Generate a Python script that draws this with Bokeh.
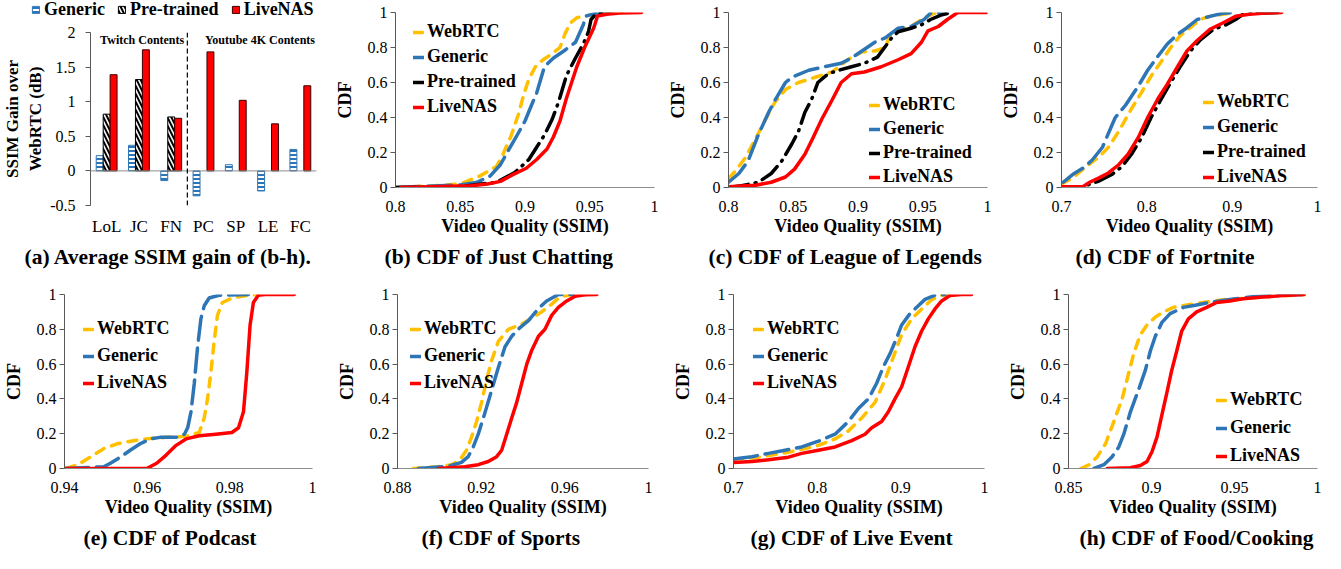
from bokeh.plotting import figure
from bokeh.models import (Range1d, FactorRange, FixedTicker, CustomJSTickFormatter,
                          Legend, LegendItem, Span, Label, ColumnDataSource, Title)
from bokeh.transform import dodge
from bokeh.layouts import row, column
from bokeh.embed import file_html
from bokeh.resources import INLINE

FONT = "Liberation Serif"
C_WEBRTC = "#FFC000"
C_GENERIC = "#2E75B6"
C_PRE = "#000000"
C_LIVE = "#FF0000"

# ---------------- (a) average SSIM gain ----------------
categories = ["LoL", "JC", "FN", "PC", "SP", "LE", "FC"]
gain_generic = [0.22, 0.37, -0.14, -0.36, 0.09, -0.29, 0.31]
pre_categories = ["LoL", "JC", "FN"]
gain_pretrained = [0.82, 1.32, 0.78]
gain_livenas = [1.39, 1.75, 0.76, 1.72, 1.02, 0.68, 1.23]
gain_ticks = [-0.5, 0, 0.5, 1, 1.5, 2]

# ---------------- (b) Just Chatting ----------------
jc_webrtc_x = [0.800, 0.830, 0.850, 0.865, 0.878, 0.883, 0.889, 0.895, 0.899, 0.903, 0.908, 0.914, 0.922, 0.927, 0.931, 0.935, 0.940, 0.950, 0.960, 0.975]
jc_webrtc_y = [0.0, 0.01, 0.02, 0.065, 0.12, 0.19, 0.29, 0.42, 0.53, 0.62, 0.69, 0.73, 0.77, 0.80, 0.88, 0.94, 0.97, 0.985, 0.995, 1.0]
jc_generic_x = [0.800, 0.850, 0.863, 0.873, 0.881, 0.887, 0.894, 0.900, 0.905, 0.909, 0.915, 0.922, 0.930, 0.939, 0.942, 0.945, 0.947, 0.955, 0.965]
jc_generic_y = [0.0, 0.015, 0.03, 0.065, 0.13, 0.21, 0.30, 0.38, 0.47, 0.54, 0.69, 0.74, 0.78, 0.83, 0.88, 0.93, 0.98, 0.995, 1.0]
jc_pre_x = [0.800, 0.850, 0.878, 0.892, 0.903, 0.909, 0.915, 0.921, 0.926, 0.932, 0.939, 0.945, 0.949, 0.951, 0.954, 0.960]
jc_pre_y = [0.0, 0.005, 0.03, 0.085, 0.16, 0.23, 0.30, 0.39, 0.49, 0.64, 0.74, 0.82, 0.89, 0.96, 0.985, 1.0]
jc_live_x = [0.804, 0.858, 0.871, 0.881, 0.891, 0.901, 0.909, 0.917, 0.922, 0.927, 0.932, 0.936, 0.940, 0.946, 0.953, 0.956, 0.963, 0.973, 0.990]
jc_live_y = [0.0, 0.01, 0.02, 0.035, 0.075, 0.11, 0.16, 0.22, 0.29, 0.38, 0.51, 0.60, 0.69, 0.80, 0.91, 0.98, 0.99, 0.997, 1.0]

# ---------------- (c) League of Legends ----------------
lol_webrtc_x = [0.800, 0.806, 0.813, 0.821, 0.828, 0.836, 0.844, 0.854, 0.867, 0.880, 0.892, 0.903, 0.913, 0.921, 0.926, 0.931, 0.941, 0.951, 0.959, 0.964]
lol_webrtc_y = [0.05, 0.10, 0.17, 0.28, 0.38, 0.49, 0.56, 0.60, 0.63, 0.66, 0.73, 0.775, 0.78, 0.80, 0.89, 0.90, 0.92, 0.97, 0.996, 1.0]
lol_generic_x = [0.800, 0.808, 0.815, 0.823, 0.831, 0.836, 0.844, 0.849, 0.862, 0.874, 0.887, 0.895, 0.905, 0.913, 0.921, 0.931, 0.941, 0.951, 0.956, 0.967]
lol_generic_y = [0.03, 0.08, 0.15, 0.30, 0.43, 0.50, 0.60, 0.63, 0.67, 0.69, 0.71, 0.74, 0.79, 0.83, 0.855, 0.91, 0.92, 0.96, 0.996, 1.0]
lol_pre_x = [0.800, 0.810, 0.823, 0.833, 0.841, 0.849, 0.854, 0.859, 0.864, 0.869, 0.877, 0.885, 0.895, 0.905, 0.915, 0.926, 0.931, 0.941, 0.949, 0.956, 0.964, 0.972]
lol_pre_y = [0.0, 0.01, 0.03, 0.08, 0.15, 0.25, 0.32, 0.43, 0.50, 0.60, 0.65, 0.67, 0.69, 0.71, 0.745, 0.855, 0.89, 0.91, 0.93, 0.96, 0.985, 1.0]
lol_live_x = [0.800, 0.821, 0.833, 0.844, 0.851, 0.859, 0.865, 0.872, 0.880, 0.887, 0.895, 0.905, 0.918, 0.931, 0.941, 0.949, 0.954, 0.962, 0.969, 0.977, 1.0]
lol_live_y = [0.004, 0.013, 0.03, 0.06, 0.105, 0.19, 0.28, 0.39, 0.50, 0.60, 0.65, 0.66, 0.69, 0.73, 0.765, 0.83, 0.895, 0.92, 0.96, 1.0, 1.0]

# ---------------- (d) Fortnite ----------------
fn_webrtc_x = [0.700, 0.713, 0.729, 0.744, 0.755, 0.767, 0.782, 0.794, 0.805, 0.817, 0.828, 0.839, 0.851, 0.862, 0.874, 0.889, 0.904]
fn_webrtc_y = [0.02, 0.055, 0.12, 0.175, 0.23, 0.32, 0.45, 0.545, 0.637, 0.72, 0.80, 0.867, 0.913, 0.96, 0.978, 0.99, 1.0]
fn_generic_x = [0.702, 0.713, 0.725, 0.736, 0.748, 0.763, 0.775, 0.790, 0.801, 0.813, 0.824, 0.836, 0.847, 0.859, 0.874, 0.889, 0.904]
fn_generic_y = [0.03, 0.074, 0.11, 0.157, 0.23, 0.40, 0.47, 0.58, 0.67, 0.75, 0.82, 0.876, 0.913, 0.96, 0.978, 0.996, 1.0]
fn_pre_x = [0.700, 0.725, 0.744, 0.759, 0.771, 0.782, 0.794, 0.805, 0.817, 0.828, 0.839, 0.851, 0.862, 0.878, 0.893, 0.904, 0.912, 0.927, 0.958]
fn_pre_y = [0.0, 0.005, 0.037, 0.074, 0.12, 0.19, 0.286, 0.40, 0.507, 0.60, 0.69, 0.78, 0.84, 0.904, 0.93, 0.96, 0.987, 0.996, 1.0]
fn_live_x = [0.700, 0.725, 0.733, 0.744, 0.755, 0.767, 0.778, 0.790, 0.801, 0.813, 0.824, 0.836, 0.847, 0.859, 0.874, 0.889, 0.904, 0.920, 0.935, 0.958]
fn_live_y = [0.005, 0.005, 0.03, 0.055, 0.083, 0.13, 0.19, 0.286, 0.40, 0.507, 0.59, 0.69, 0.78, 0.84, 0.904, 0.94, 0.978, 0.99, 0.996, 1.0]

# ---------------- (e) Podcast ----------------
pc_webrtc_x = [0.9404, 0.9432, 0.9464, 0.9495, 0.9527, 0.9567, 0.9607, 0.9646, 0.9694, 0.9726, 0.9738, 0.9746, 0.9754, 0.9762, 0.9770, 0.9782, 0.9806, 0.9845, 0.9869]
pc_webrtc_y = [0.0, 0.022, 0.068, 0.114, 0.142, 0.16, 0.173, 0.179, 0.185, 0.207, 0.29, 0.40, 0.55, 0.73, 0.88, 0.954, 0.98, 0.996, 1.0]
pc_generic_x = [0.9400, 0.9495, 0.9511, 0.9535, 0.9559, 0.9583, 0.9607, 0.9631, 0.9670, 0.9690, 0.9698, 0.9706, 0.9714, 0.9722, 0.9730, 0.9738, 0.9750, 0.9774, 0.9845]
pc_generic_y = [0.0, 0.01, 0.03, 0.065, 0.105, 0.142, 0.17, 0.179, 0.179, 0.197, 0.234, 0.326, 0.49, 0.70, 0.86, 0.935, 0.98, 0.996, 1.0]
pc_live_x = [0.9400, 0.9599, 0.9623, 0.9646, 0.9670, 0.9694, 0.9726, 0.9766, 0.9805, 0.9821, 0.9833, 0.9841, 0.9849, 0.9857, 0.9869, 0.9885, 0.9956]
pc_live_y = [0.0, 0.0, 0.03, 0.077, 0.133, 0.17, 0.188, 0.197, 0.207, 0.234, 0.326, 0.55, 0.825, 0.954, 0.996, 1.0, 1.0]

# ---------------- (f) Sports ----------------
sp_webrtc_x = [0.8875, 0.8995, 0.9059, 0.9098, 0.9130, 0.9154, 0.9178, 0.9202, 0.9226, 0.9250, 0.9282, 0.9330, 0.9394, 0.9450, 0.9489, 0.9537, 0.9577, 0.9633]
sp_webrtc_y = [0.0, 0.01, 0.022, 0.05, 0.105, 0.18, 0.27, 0.38, 0.51, 0.62, 0.73, 0.80, 0.83, 0.87, 0.90, 0.945, 0.987, 1.0]
sp_generic_x = [0.8899, 0.9043, 0.9106, 0.9138, 0.9162, 0.9186, 0.9218, 0.9250, 0.9282, 0.9314, 0.9346, 0.9386, 0.9426, 0.9474, 0.9513, 0.9569, 0.9641]
sp_generic_y = [0.0, 0.013, 0.035, 0.068, 0.124, 0.197, 0.32, 0.45, 0.58, 0.70, 0.76, 0.81, 0.85, 0.92, 0.963, 1.0, 1.0]
sp_live_x = [0.8995, 0.9122, 0.9186, 0.9234, 0.9274, 0.9298, 0.9322, 0.9346, 0.9370, 0.9394, 0.9418, 0.9442, 0.9474, 0.9505, 0.9537, 0.9569, 0.9609, 0.9649, 0.9697, 0.9753]
sp_live_y = [0.0, 0.01, 0.022, 0.04, 0.068, 0.105, 0.197, 0.29, 0.38, 0.49, 0.60, 0.68, 0.76, 0.80, 0.88, 0.926, 0.963, 0.99, 0.998, 1.0]

# ---------------- (g) Live Event ----------------
le_webrtc_x = [0.700, 0.7219, 0.7418, 0.7617, 0.7816, 0.8015, 0.8214, 0.8373, 0.8532, 0.8692, 0.8811, 0.8910, 0.9010, 0.9129, 0.9249, 0.9368, 0.9488, 0.9567]
le_webrtc_y = [0.054, 0.06, 0.074, 0.09, 0.11, 0.133, 0.17, 0.216, 0.29, 0.38, 0.51, 0.64, 0.77, 0.86, 0.917, 0.97, 0.996, 1.0]
le_generic_x = [0.700, 0.7219, 0.7418, 0.7617, 0.7816, 0.8015, 0.8214, 0.8373, 0.8493, 0.8612, 0.8711, 0.8791, 0.8871, 0.8950, 0.9010, 0.9109, 0.9209, 0.9289, 0.9408, 0.9527]
le_generic_y = [0.054, 0.068, 0.087, 0.105, 0.124, 0.157, 0.197, 0.27, 0.345, 0.40, 0.49, 0.585, 0.66, 0.75, 0.825, 0.89, 0.935, 0.972, 0.996, 1.0]
le_live_x = [0.700, 0.7219, 0.7418, 0.7657, 0.7816, 0.8015, 0.8214, 0.8413, 0.8572, 0.8652, 0.8771, 0.8851, 0.8930, 0.9010, 0.9090, 0.9169, 0.9249, 0.9328, 0.9408, 0.9488, 0.9587, 0.9726, 0.9846]
le_live_y = [0.035, 0.04, 0.05, 0.065, 0.087, 0.105, 0.124, 0.16, 0.197, 0.234, 0.27, 0.326, 0.40, 0.47, 0.585, 0.70, 0.79, 0.86, 0.917, 0.963, 0.994, 1.0, 1.0]

# ---------------- (h) Food/Cooking ----------------
fc_webrtc_x = [0.8574, 0.8624, 0.8674, 0.8723, 0.8773, 0.8823, 0.8863, 0.8893, 0.8933, 0.8973, 0.9023, 0.9073, 0.9132, 0.9212, 0.9312, 0.9432, 0.9571, 0.9731, 0.9871, 0.9920]
fc_webrtc_y = [0.0, 0.022, 0.068, 0.142, 0.27, 0.40, 0.55, 0.66, 0.77, 0.825, 0.87, 0.90, 0.926, 0.94, 0.954, 0.97, 0.978, 0.99, 0.996, 1.0]
fc_generic_x = [0.8654, 0.8713, 0.8763, 0.8803, 0.8833, 0.8873, 0.8923, 0.8963, 0.8993, 0.9023, 0.9063, 0.9112, 0.9192, 0.9272, 0.9372, 0.9472, 0.9611, 0.9771, 0.9920]
fc_generic_y = [0.0, 0.022, 0.068, 0.124, 0.197, 0.326, 0.455, 0.565, 0.675, 0.76, 0.84, 0.89, 0.926, 0.94, 0.958, 0.972, 0.987, 0.996, 1.0]
fc_live_x = [0.8733, 0.8873, 0.8933, 0.8973, 0.9003, 0.9033, 0.9063, 0.9093, 0.9122, 0.9152, 0.9182, 0.9222, 0.9272, 0.9332, 0.9392, 0.9472, 0.9551, 0.9671, 0.9791, 0.9920]
fc_live_y = [0.0, 0.005, 0.017, 0.04, 0.096, 0.18, 0.31, 0.437, 0.565, 0.675, 0.79, 0.86, 0.90, 0.926, 0.954, 0.963, 0.976, 0.985, 0.994, 1.0]

cdf_ticks = [0, 0.2, 0.4, 0.6, 0.8, 1]

FMT = CustomJSTickFormatter(code="return String(Number(tick.toFixed(3)));")

DASH = {"WebRTC": "9 8", "Generic": "24 8", "Pre-trained": "20 7 1 7", "LiveNAS": "solid"}
COLOR = {"WebRTC": C_WEBRTC, "Generic": C_GENERIC, "Pre-trained": C_PRE, "LiveNAS": C_LIVE}

GEN_STYLE = dict(fill_color="white", line_color=C_GENERIC, line_width=1,
                 hatch_pattern="horizontal_line", hatch_color=C_GENERIC, hatch_scale=4, hatch_weight=2)
PRE_STYLE = dict(fill_color="white", line_color="black", line_width=1,
                 hatch_pattern="left_diagonal_line", hatch_color="black", hatch_scale=8, hatch_weight=2)
LIVE_STYLE = dict(fill_color=C_LIVE, line_color="#3a0000", line_width=1)


def base_style(p):
    p.outline_line_color = None
    p.xgrid.grid_line_color = None
    p.ygrid.grid_line_color = None
    p.background_fill_color = "white"
    p.border_fill_color = "white"


def add_caption(p, text, offset):
    p.add_layout(Title(text=text, align="left", offset=offset, standoff=8,
                       text_font=FONT, text_font_style="bold", text_font_size="21.5px",
                       text_color="black"), "below")


def cdf_panel(w, h, bl, br, bt, bb, xr, xticks, series, leg_xy, leg_spacing,
              caption, cap_off):
    p = figure(width=w, height=h, x_range=Range1d(*xr), y_range=Range1d(0, 1),
               output_backend="svg", toolbar_location=None, title=None,
               min_border_left=bl, min_border_right=br, min_border_top=bt, min_border_bottom=bb)
    base_style(p)
    xa = p.xaxis[0]
    xa.ticker = FixedTicker(ticks=xticks)
    xa.formatter = FMT
    xa.major_tick_out = 0
    xa.major_tick_in = 0
    xa.minor_tick_out = 0
    xa.minor_tick_in = 0
    xa.axis_line_color = "#8c8c8c"
    xa.major_label_standoff = 13
    xa.major_label_text_font = FONT
    xa.major_label_text_font_size = "16px"
    xa.major_label_text_color = "black"
    xa.axis_label = "Video Quality (SSIM)"
    xa.axis_label_text_font = FONT
    xa.axis_label_text_font_style = "bold"
    xa.axis_label_text_font_size = "18px"
    xa.axis_label_text_color = "black"
    xa.axis_label_standoff = 1
    ya = p.yaxis[0]
    ya.ticker = FixedTicker(ticks=cdf_ticks)
    ya.formatter = FMT
    ya.major_tick_out = 5
    ya.major_tick_in = 0
    ya.minor_tick_out = 0
    ya.minor_tick_in = 0
    ya.major_tick_line_color = "#595959"
    ya.axis_line_color = "#595959"
    ya.major_label_standoff = 3
    ya.major_label_text_font = FONT
    ya.major_label_text_font_size = "16px"
    ya.major_label_text_color = "black"
    ya.axis_label = "CDF"
    ya.axis_label_text_font = FONT
    ya.axis_label_text_font_style = "bold"
    ya.axis_label_text_font_size = "18px"
    ya.axis_label_text_color = "black"
    ya.axis_label_standoff = 10
    items = []
    for name, xs, ys in series:
        r = p.line(xs, ys, line_color=COLOR[name], line_width=3.5, line_dash=DASH[name],
                   line_cap="round", line_join="round")
        items.append(LegendItem(label=name, renderers=[r]))
    leg = Legend(items=items, location=leg_xy, orientation="vertical",
                 label_text_font=FONT, label_text_font_style="bold",
                 label_text_font_size="18px", label_text_color="black",
                 label_standoff=3, glyph_width=11, glyph_height=20, label_height=20,
                 spacing=leg_spacing, padding=0, margin=0,
                 border_line_color=None, background_fill_alpha=0)
    p.add_layout(leg)
    add_caption(p, caption, cap_off)
    return p


# ---------------- panel (a): legend strip ----------------
pleg = figure(width=331, height=20, x_range=Range1d(0, 1), y_range=Range1d(0, 1),
              output_backend="svg", toolbar_location=None, title=None,
              x_axis_location=None, y_axis_location=None, min_border=0)
base_style(pleg)
# invisible legend proxies (legend glyphs only)
lg_gen = pleg.vbar(x=[0], top=[0], width=0.1, visible=False, **GEN_STYLE)
lg_pre = pleg.vbar(x=[0], top=[0], width=0.1, visible=False, **PRE_STYLE)
lg_live = pleg.vbar(x=[0], top=[0], width=0.1, visible=False, **LIVE_STYLE)
leg_a = Legend(items=[LegendItem(label="Generic", renderers=[lg_gen]),
                      LegendItem(label="Pre-trained", renderers=[lg_pre]),
                      LegendItem(label="LiveNAS", renderers=[lg_live])],
               location=(31, 0), orientation="horizontal",
               label_text_font=FONT, label_text_font_style="bold", label_text_font_size="18px",
               label_text_color="black", label_standoff=4, glyph_width=9, glyph_height=9,
               label_height=20, spacing=12, padding=0, margin=0,
               border_line_color=None, background_fill_alpha=0, inactive_fill_alpha=0)
pleg.add_layout(leg_a)

# ---------------- panel (a): bars ----------------
pa = figure(width=331, height=252, x_range=FactorRange(*categories),
            y_range=Range1d(-0.5, 2), output_backend="svg", toolbar_location=None, title=None,
            min_border_left=86, min_border_right=15, min_border_top=12, min_border_bottom=55)
base_style(pa)
pa.x_range.range_padding = 0

src_all = ColumnDataSource(data=dict(cat=categories, generic=gain_generic, live=gain_livenas))
src_pre = ColumnDataSource(data=dict(cat=pre_categories, pre=gain_pretrained))
pa.vbar(x=dodge("cat", -0.215, range=pa.x_range), top="generic", width=0.215, source=src_all, **GEN_STYLE)
pa.vbar(x=dodge("cat", 0.0, range=pa.x_range), top="pre", width=0.215, source=src_pre, **PRE_STYLE)
pa.vbar(x=dodge("cat", 0.215, range=pa.x_range), top="live", width=0.215, source=src_all, **LIVE_STYLE)
pa.add_layout(Span(location=0, dimension="width", line_color="#8c8c8c", line_width=1))
pa.add_layout(Span(location=3, dimension="height", line_color="black", line_width=1.2, line_dash="5 3"))
pa.add_layout(Label(x=1.6, y=2.0, text="Twitch Contents", text_align="center", text_baseline="top",
                    text_font=FONT, text_font_style="bold", text_font_size="12px", text_color="black"))
pa.add_layout(Label(x=5.25, y=2.0, text="Youtube 4K Contents", text_align="center", text_baseline="top",
                    text_font=FONT, text_font_style="bold", text_font_size="12px", text_color="black"))
xa = pa.xaxis[0]
xa.axis_line_color = None
xa.major_tick_line_color = None
xa.major_label_standoff = 5
xa.major_label_text_font = FONT
xa.major_label_text_font_size = "17px"
xa.major_label_text_color = "black"
ya = pa.yaxis[0]
ya.ticker = FixedTicker(ticks=gain_ticks)
ya.formatter = FMT
ya.major_tick_out = 5
ya.major_tick_in = 0
ya.minor_tick_out = 0
ya.minor_tick_in = 0
ya.major_tick_line_color = "#595959"
ya.axis_line_color = "#595959"
ya.major_label_standoff = 10
ya.major_label_text_font = FONT
ya.major_label_text_font_size = "16px"
ya.major_label_text_color = "black"
ya.axis_label = "SSIM Gain over\nWebRTC (dB)"
ya.axis_label_text_font = FONT
ya.axis_label_text_font_style = "bold"
ya.axis_label_text_font_size = "17px"
ya.axis_label_text_color = "black"
ya.axis_label_standoff = 2
add_caption(pa, "(a) Average SSIM gain of (b-h).", -66)

# ---------------- CDF panels ----------------
pb = cdf_panel(331, 272, 63, 8, 12, 80, (0.8, 1), [0.8, 0.85, 0.9, 0.95, 1],
               [("WebRTC", jc_webrtc_x, jc_webrtc_y), ("Generic", jc_generic_x, jc_generic_y),
                ("Pre-trained", jc_pre_x, jc_pre_y), ("LiveNAS", jc_live_x, jc_live_y)],
               (18, 70), 4, "(b) CDF of Just Chatting", -11)
pc = cdf_panel(331, 272, 66, 6, 12, 80, (0.8, 1), [0.8, 0.85, 0.9, 0.95, 1],
               [("WebRTC", lol_webrtc_x, lol_webrtc_y), ("Generic", lol_generic_x, lol_generic_y),
                ("Pre-trained", lol_pre_x, lol_pre_y), ("LiveNAS", lol_live_x, lol_live_y)],
               (141, 0), 3, "(c) CDF of League of Legends", -20)
pd_ = cdf_panel(332, 272, 68, 8, 12, 80, (0.7, 1), [0.7, 0.8, 0.9, 1],
                [("WebRTC", fn_webrtc_x, fn_webrtc_y), ("Generic", fn_generic_x, fn_generic_y),
                 ("Pre-trained", fn_pre_x, fn_pre_y), ("LiveNAS", fn_live_x, fn_live_y)],
                (142, 0), 4, "(d) CDF of Fortnite", 14)
pe = cdf_panel(331, 281, 60, 19, 22, 80, (0.94, 1), [0.94, 0.96, 0.98, 1],
               [("WebRTC", pc_webrtc_x, pc_webrtc_y), ("Generic", pc_generic_x, pc_generic_y),
                ("LiveNAS", pc_live_x, pc_live_y)],
               (19, 75), 6, "(e) CDF of Podcast", 19)
pf = cdf_panel(331, 281, 66, 14, 22, 80, (0.88, 1), [0.88, 0.92, 0.96, 1],
               [("WebRTC", sp_webrtc_x, sp_webrtc_y), ("Generic", sp_generic_x, sp_generic_y),
                ("LiveNAS", sp_live_x, sp_live_y)],
               (13, 75), 6, "(f) CDF of Sports", 24)
pg = cdf_panel(331, 281, 71, 9, 22, 80, (0.7, 1), [0.7, 0.8, 0.9, 1],
               [("WebRTC", le_webrtc_x, le_webrtc_y), ("Generic", le_generic_x, le_generic_y),
                ("LiveNAS", le_live_x, le_live_y)],
               (20, 75), 6, "(g) CDF of Live Event", 17)
ph = cdf_panel(332, 281, 75, 8, 22, 80, (0.85, 1), [0.85, 0.9, 0.95, 1],
               [("WebRTC", fc_webrtc_x, fc_webrtc_y), ("Generic", fc_generic_x, fc_generic_y),
                ("LiveNAS", fc_live_x, fc_live_y)],
               (148, 2), 7, "(h) CDF of Food/Cooking", 11)

layout = column(row(column(row(pleg, spacing=0), pa, spacing=0), pb, pc, pd_, spacing=0),
                row(pe, pf, pg, ph, spacing=0), spacing=0)
open("out.html", "w").write(file_html(layout, INLINE, title="LiveNAS SSIM"))
